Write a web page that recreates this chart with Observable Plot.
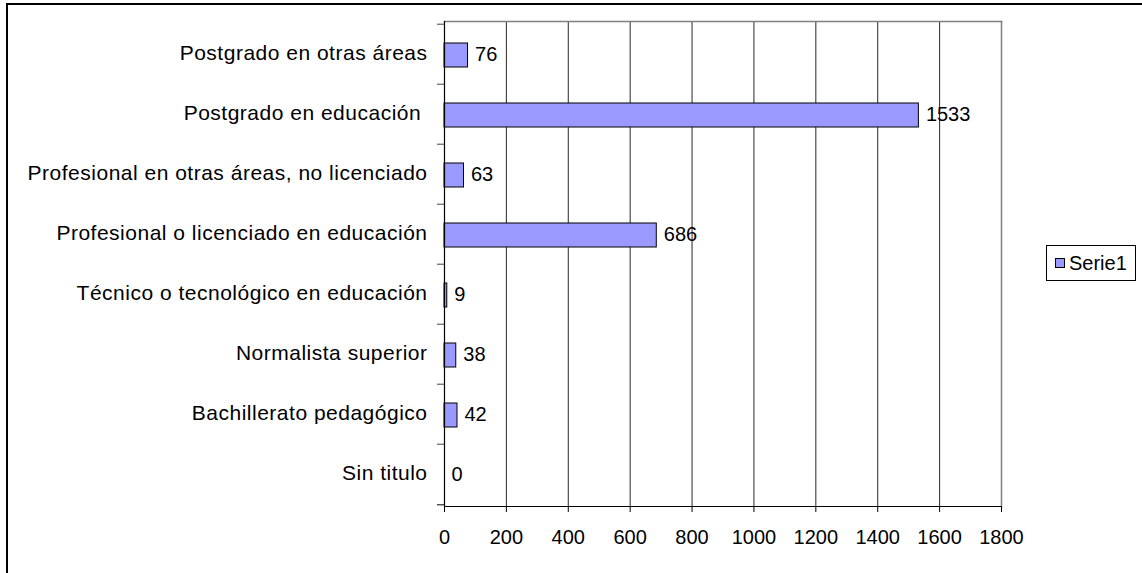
<!DOCTYPE html>
<html>
<head>
<meta charset="utf-8">
<script src="https://cdn.jsdelivr.net/npm/d3@7"></script>
<script src="https://cdn.jsdelivr.net/npm/@observablehq/plot@0.6"></script>
<style>
  html, body { margin: 0; padding: 0; background: #fff; }
  #wrap { position: relative; width: 1142px; height: 573px; overflow: hidden; font-family: "Liberation Sans", Arial, sans-serif; }
  #border { position: absolute; left: 6px; top: 3px; width: 2000px; height: 2000px; border-top: 2px solid #000; border-left: 2px solid #000; box-sizing: border-box; }
  #chart { position: absolute; left: 0; top: 0; }
  #legend { position: absolute; left: 1046px; top: 245px; width: 90px; height: 36px; border: 1px solid #000; box-sizing: border-box; background: #fff; font-size: 20px; color: #000; }
  #legend .sw { position: absolute; left: 8px; top: 12px; width: 10px; height: 10px; border: 1px solid #000; box-sizing: border-box; }
  #legend .lab { position: absolute; left: 22px; top: 6px; line-height: 22px; }
  g[aria-label="y-axis tick label"] text { white-space: pre; letter-spacing: 0.5px; }
</style>
</head>
<body>
<div id="wrap">
  <div id="border"></div>
  <div id="chart"></div>
  <div id="legend"><div class="sw"></div><div class="lab"></div></div>
</div>
<script>
const categories = [
  "Postgrado en otras áreas",
  "Postgrado en educación ",
  "Profesional en otras áreas, no licenciado",
  "Profesional o licenciado en educación",
  "Técnico o tecnológico en educación",
  "Normalista superior",
  "Bachillerato pedagógico",
  "Sin titulo"
];
const values = [76, 1533, 63, 686, 9, 38, 42, 0];
const xTicks = [0, 200, 400, 600, 800, 1000, 1200, 1400, 1600, 1800];
const seriesName = "Serie1";
const barColor = "#9999FF";

const data = categories.map((c, i) => ({category: c, value: values[i]}));

const W = 1142, H = 573, mTop = 21, mBottom = 67, mLeft = 444, mRight = 141;
const bw = (H - mTop - mBottom) / categories.length;

const chart = Plot.plot({
  width: W,
  height: H,
  marginTop: mTop,
  marginBottom: mBottom,
  marginLeft: mLeft,
  marginRight: mRight,
  style: {fontFamily: '"Liberation Sans", Arial, sans-serif', fontSize: "20px", color: "#000", background: "transparent"},
  x: {domain: [0, 1800], label: null},
  y: {domain: categories, padding: 0, label: null},
  marks: [
    Plot.gridX(xTicks.filter(d => d > 0), {stroke: "#000", strokeOpacity: 0.85}),
    Plot.frame({anchor: "top", stroke: "#808080", strokeWidth: 1.5}),
    Plot.frame({anchor: "right", stroke: "#808080", strokeWidth: 1.5}),
    Plot.barX(data, {y: "category", x: "value", fill: barColor, stroke: "#000", strokeWidth: 1, insetTop: 19, insetBottom: 17}),
    Plot.text(data, {y: "category", x: "value", text: d => String(d.value), textAnchor: "start", dx: 7, dy: 0, fontSize: 20, fill: "#000"}),
    Plot.axisY({tickSize: 0, tickPadding: 17, fontSize: 21, dy: -1, label: null}),
    Plot.axisY({ticks: categories, tickSize: 7, text: null, dy: -bw / 2, stroke: "#444", label: null}),
    Plot.axisY({ticks: categories.slice(-1), tickSize: 7, text: null, dy: bw / 2, stroke: "#000", label: null}),
    Plot.axisX({ticks: xTicks, tickSize: 6, tickPadding: 17, fontSize: 20, label: null, tickFormat: d => String(d)}),
    Plot.ruleX([0], {stroke: "#000", strokeWidth: 1.2}),
    Plot.frame({anchor: "bottom", stroke: "#000", strokeWidth: 1.2})
  ]
});
document.getElementById("chart").appendChild(chart);
document.querySelector("#legend .sw").style.background = barColor;
document.querySelector("#legend .lab").textContent = seriesName;
</script>
</body>
</html>
